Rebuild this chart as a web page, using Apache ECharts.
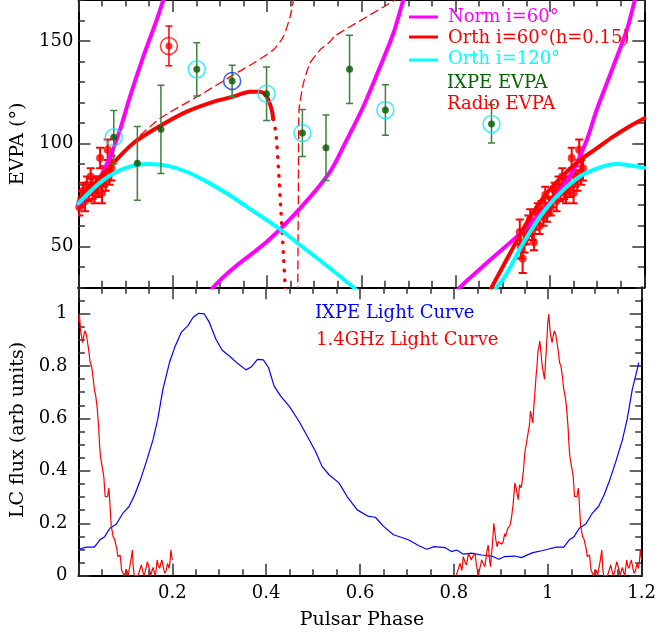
<!DOCTYPE html>
<html><head><meta charset="utf-8">
<script src="https://cdn.jsdelivr.net/npm/echarts@6/dist/echarts.min.js"></script>
<style>html,body{margin:0;padding:0;background:#fff}#c{width:659px;height:638px}</style>
</head><body><div id="c"></div>
<script>
// ---------------- DATA ----------------
const phaseTicks = [0, 0.2, 0.4, 0.6, 0.8, 1.0, 1.2];
const phaseLabels = [0.2, 0.4, 0.6, 0.8, 1.0, 1.2];
const evpaTicks = [50, 100, 150];
const fluxTicks = [0, 0.2, 0.4, 0.6, 0.8, 1.0];

// IXPE EVPA points
const ixpePhase = [0.075, 0.125, 0.175, 0.251, 0.326, 0.399, 0.475, 0.525, 0.575, 0.651, 0.876];
const ixpeEvpa  = [103.1, 90.4, 107.0, 136.2, 130.5, 124.3, 105.2, 98.0, 136.2, 116.4, 109.6];
const ixpeErr   = [13.0, 18.0, 21.5, 13.0, 7.7, 13.0, 11.5, 16.0, 16.6, 12.3, 9.3];
const ixpeRing  = ['#00e8ff', null, null, '#00e8ff', '#1030e0', '#00e8ff', '#00e8ff', null, null, '#00e8ff', '#00e8ff'];
// highlighted red point
const redPtPhase = [0.192];
const redPtEvpa = [147.6];
const redPtErr = [9.7];

// Radio EVPA (phase 0.93-1.07; phases >1 are also shown at phase-1)
const radioPhase = [0.936,0.938,0.942,0.946,0.950,0.954,0.958,0.962,0.966,0.970,0.974,0.978,0.982,0.986,0.990,0.994,0.998,1.002,1.006,1.010,1.014,1.018,1.022,1.026,1.030,1.034,1.038,1.042,1.046,1.050,1.054,1.058,1.062,1.066,1.070];
const radioEvpa  = [57,50,44,52,55,60,63,57,52,62,66,60,68,64,75,66,70,69,73,77,72,80,76,84,78,76,80,79,93,76,84,82,97,86,88];
const radioErr   = [6,6,7,5,4,5,5,4,4,4,5,4,4,4,4,4,4,4,4,4,5,4,4,4,5,5,4,5,5,5,5,5,5,6,6];

// Model curves [phase, EVPA]
const normA = [[0,70.5],[0.0388,80.7],[0.067,93.6],[0.088,106.6],[0.1094,122.9],[0.1376,142.4],[0.166,160.3],[0.18,170],[0.194,179.7]];
const normB = [[0.275,25],[0.286,30],[0.3285,39.3],[0.3994,52.2],[0.47,68.5],[0.5336,86.3],[0.569,101.8],[0.604,118],[0.6397,137.5],[0.668,153.8],[0.689,170],[0.70,178]];
const normC = [[0.795,25],[0.809,30],[0.873,43.3],[0.937,56.3],[1.0,70.9],[1.0497,87.2],[1.078,101.8],[1.099,116.4],[1.134,137.5],[1.163,155.4],[1.18,170],[1.19,178]];
const orth60A = [[0,71.5],[0.067,88.8],[0.1164,100.2],[0.173,108.6],[0.2297,115.6],[0.286,120.4],[0.3285,122.9],[0.364,125.3],[0.385,125.3],[0.3994,122.9],[0.41,116.4],[0.413,112]];
const orth60Dot = [[0.413,112],[0.419,105],[0.424,88.8],[0.429,69.3],[0.4346,46.6],[0.44,23.8]];
const orth60B = [[0.866,25],[0.8765,30],[0.9154,46.6],[0.958,64.4],[0.993,75.8],[1.028,84.7],[1.064,92],[1.099,97.7],[1.134,103.4],[1.17,108.6],[1.2,112.4]];
const orth60DashA = [[0,71.5],[0.067,88.8],[0.1164,100.8],[0.173,112.3],[0.258,123.7],[0.3286,133.5],[0.371,139.2],[0.413,145.6],[0.4346,152.1],[0.449,161.9],[0.456,170],[0.459,180]];
const orth60DashB = [[0.4648,20],[0.4651,30],[0.4664,72.5],[0.4678,116.4],[0.477,129.4],[0.491,139.2],[0.512,145.6],[0.5336,149.7],[0.544,152.5],[0.6503,167.1],[0.671,170],[0.68,172]];
const orth120A = [[0,70.9],[0.0458,81],[0.0812,86.3],[0.1164,89.3],[0.1449,90.1],[0.1873,89.3],[0.2297,86.3],[0.2721,81.5],[0.3145,75.8],[0.357,69.3],[0.3994,62.8],[0.4276,58.3],[0.47,50.6],[0.5336,39.3],[0.583,30],[0.6,26.5]];
const orth120B = [[0.875,25],[0.887,30],[0.9045,35.2],[0.947,53],[0.9896,67.7],[1.032,78.2],[1.0747,85.5],[1.1417,90.1],[1.2,88.2]];

// Light curves
const ixpeLcPhase = [0.000,0.018,0.034,0.046,0.056,0.067,0.081,0.095,0.108,0.120,0.131,0.145,0.159,0.169,0.180,0.194,0.205,0.219,0.233,0.244,0.256,0.268,0.279,0.293,0.306,0.3215,0.339,0.357,0.369,0.3815,0.394,0.405,0.417,0.431,0.449,0.470,0.4876,0.505,0.519,0.534,0.555,0.5725,0.594,0.618,0.6327,0.650,0.6714,0.703,0.7245,0.742,0.758,0.781,0.795,0.806,0.820,0.8375,0.859,0.880,0.8957,0.908,0.930,0.9436,0.968,0.9896];
const ixpeLcFlux  = [0.101,0.109,0.109,0.137,0.149,0.181,0.197,0.239,0.264,0.309,0.360,0.436,0.519,0.596,0.711,0.813,0.870,0.928,0.953,0.985,1.001,0.999,0.966,0.902,0.861,0.838,0.810,0.785,0.797,0.825,0.823,0.794,0.723,0.685,0.647,0.589,0.532,0.475,0.417,0.385,0.354,0.302,0.251,0.226,0.223,0.188,0.156,0.137,0.115,0.101,0.111,0.107,0.092,0.098,0.082,0.086,0.079,0.075,0.063,0.073,0.075,0.069,0.088,0.096];
const radioLcPhase = [0.805,0.810,0.813,0.817,0.820,0.824,0.827,0.831,0.834,0.837,0.840,0.845,0.848,0.852,0.856,0.859,0.863,0.866,0.870,0.873,0.876,0.878,0.882,0.885,0.889,0.892,0.895,0.898,0.902,0.905,0.908,0.910,0.913,0.915,0.919,0.922,0.926,0.930,0.933,0.937,0.940,0.943,0.945,0.948,0.951,0.955,0.958,0.961,0.963,0.966,0.968,0.970,0.972,0.975,0.977,0.979,0.981,0.983,0.986,0.988,0.990,0.993,0.995,0.998,1.000,1.002,1.005,1.009,1.012,1.014,1.017,1.019,1.022,1.025,1.028,1.031,1.034,1.037,1.040,1.043,1.045,1.047,1.051,1.054,1.057,1.060,1.062,1.065,1.067,1.070,1.072,1.074,1.077,1.079,1.082,1.084,1.087,1.089,1.092,1.095,1.097,1.100,1.103,1.106,1.108,1.112,1.115,1.117,1.119,1.123,1.127,1.131,1.134,1.136,1.138,1.140,1.143,1.147,1.150,1.152,1.154,1.157,1.159,1.162,1.164,1.166,1.168,1.170,1.173,1.176,1.178,1.181,1.184,1.187,1.190,1.193,1.195,1.197,1.200];
const radioLcFlux  = [0.0,0.03,0.047,0.02,0.073,0.05,0.041,0.085,0.092,0.06,0.073,0.086,0.04,0.0,0.035,0.06,0.045,0.034,0.09,0.117,0.06,0.034,0.12,0.20,0.14,0.111,0.13,0.137,0.12,0.13,0.16,0.149,0.17,0.181,0.19,0.213,0.27,0.354,0.33,0.29,0.347,0.335,0.354,0.40,0.468,0.47,0.545,0.575,0.628,0.60,0.583,0.64,0.685,0.762,0.80,0.857,0.87,0.896,0.84,0.80,0.80,0.749,0.749,0.90,0.966,0.998,0.93,0.889,0.92,0.934,0.92,0.915,0.86,0.813,0.80,0.76,0.711,0.685,0.64,0.570,0.50,0.455,0.449,0.38,0.302,0.30,0.302,0.334,0.28,0.188,0.17,0.149,0.14,0.137,0.10,0.073,0.08,0.079,0.022,0.01,0.0,0.01,0.022,0.0,0.0,0.06,0.098,0.03,0.0,0.0,0.0,0.0,0.041,0.037,0.01,0.0,0.02,0.054,0.06,0.02,0.0,0.02,0.032,0.01,0.0,0.03,0.06,0.04,0.028,0.05,0.06,0.03,0.009,0.02,0.047,0.028,0.05,0.098,0.06];

// ---------------- BUILD ----------------
const F = '"DejaVu Serif", serif';
const zip = (a, b, c) => a.map((v, i) => c ? [v, b[i], c[i]] : [v, b[i]]);
const wrapDown = pts => pts.filter(p => p[0] >= 1).map(p => [p[0] - 1].concat(p.slice(1)));
const wrapUp = pts => pts.filter(p => p[0] <= 0.2).map(p => [p[0] + 1].concat(p.slice(1)));

const ixpeLc = zip(ixpeLcPhase, ixpeLcFlux);
const ixpeLcAll = ixpeLc.concat(wrapUp(ixpeLc));
const radioLc = zip(radioLcPhase, radioLcFlux);
const radioLcLeft = wrapDown(radioLc);
const radioPts = zip(radioPhase, radioEvpa, radioErr);
const radioAll = radioPts.concat(wrapDown(radioPts));
const ixpePts = zip(ixpePhase, ixpeEvpa, ixpeErr);
const redPts = zip(redPtPhase, redPtEvpa, redPtErr);

function steps(a, b, s) { const r = []; for (let v = a; v <= b + 1e-9; v += s) r.push(+v.toFixed(4)); return r; }
const phaseMinor = steps(0, 1.2, 0.05);
const evpaMinor = steps(30, 170, 10);
const fluxMinor = steps(0, 1.1, 0.05);

function mkAxis(o) {
  return {
    type: 'value', gridIndex: o.grid, position: o.pos, min: o.min, max: o.max,
    axisLine: { show: !o.minor, onZero: false, lineStyle: { color: '#000', width: 2 } },
    axisTick: { show: true, inside: true, length: o.minor ? 6.5 : 12, customValues: o.ticks,
      lineStyle: { color: '#333', width: 1.5 } },
    axisLabel: o.labels ? { show: true, customValues: o.labels, margin: o.margin, color: '#000',
      fontFamily: F, fontSize: 18, formatter: o.fmt } : { show: false },
    splitLine: { show: false }, minorTick: { show: false }
  };
}
const fmtNum = v => String(+(+v).toFixed(2));
const xAxes = [
  mkAxis({ grid: 0, pos: 'bottom', min: 0, max: 1.2, ticks: phaseTicks }),
  mkAxis({ grid: 0, pos: 'top', min: 0, max: 1.2, ticks: phaseTicks }),
  mkAxis({ grid: 0, pos: 'bottom', min: 0, max: 1.2, ticks: phaseMinor, minor: true }),
  mkAxis({ grid: 0, pos: 'top', min: 0, max: 1.2, ticks: phaseMinor, minor: true }),
  mkAxis({ grid: 1, pos: 'bottom', min: 0, max: 1.2, ticks: phaseTicks, labels: phaseLabels, margin: 9, fmt: fmtNum }),
  mkAxis({ grid: 1, pos: 'top', min: 0, max: 1.2, ticks: phaseTicks }),
  mkAxis({ grid: 1, pos: 'bottom', min: 0, max: 1.2, ticks: phaseMinor, minor: true }),
  mkAxis({ grid: 1, pos: 'top', min: 0, max: 1.2, ticks: phaseMinor, minor: true })
];
const yAxes = [
  mkAxis({ grid: 0, pos: 'left', min: 30, max: 170, ticks: evpaTicks, labels: evpaTicks, margin: 5, fmt: fmtNum }),
  mkAxis({ grid: 0, pos: 'right', min: 30, max: 170, ticks: evpaTicks }),
  mkAxis({ grid: 0, pos: 'left', min: 30, max: 170, ticks: evpaMinor, minor: true }),
  mkAxis({ grid: 0, pos: 'right', min: 30, max: 170, ticks: evpaMinor, minor: true }),
  mkAxis({ grid: 1, pos: 'left', min: 0, max: 1.1, ticks: fluxTicks, labels: fluxTicks, margin: 11, fmt: fmtNum }),
  mkAxis({ grid: 1, pos: 'right', min: 0, max: 1.1, ticks: fluxTicks }),
  mkAxis({ grid: 1, pos: 'left', min: 0, max: 1.1, ticks: fluxMinor, minor: true }),
  mkAxis({ grid: 1, pos: 'right', min: 0, max: 1.1, ticks: fluxMinor, minor: true })
];

function errBars(data, color, capHalf, lw, z) {
  return {
    type: 'custom', xAxisIndex: 0, yAxisIndex: 0, data: data, z: z, clip: true,
    encode: { x: 0, y: 1 },
    renderItem: function (params, api) {
      const x = api.value(0), y = api.value(1), e = api.value(2);
      const t = api.coord([x, y + e]), b = api.coord([x, y - e]);
      const st = { stroke: color, lineWidth: lw };
      return { type: 'group', children: [
        { type: 'line', shape: { x1: t[0], y1: t[1], x2: b[0], y2: b[1] }, style: st },
        { type: 'line', shape: { x1: t[0] - capHalf, y1: t[1], x2: t[0] + capHalf, y2: t[1] }, style: st },
        { type: 'line', shape: { x1: b[0] - capHalf, y1: b[1], x2: b[0] + capHalf, y2: b[1] }, style: st }
      ] };
    }
  };
}
function curve(data, color, width, type, z, smooth) {
  return { type: 'line', xAxisIndex: 0, yAxisIndex: 0, data: data, showSymbol: false, symbol: 'none',
    smooth: smooth === undefined ? 0.3 : smooth, clip: true, z: z,
    lineStyle: { color: color, width: width, type: type || 'solid', cap: 'round', join: 'round' } };
}

const series = [
  errBars(radioAll, '#ff0000', 4, 2, 2),
  { type: 'scatter', xAxisIndex: 0, yAxisIndex: 0, data: radioAll.map(p => [p[0], p[1]]), symbolSize: 8,
    itemStyle: { color: '#ff0000' }, z: 2 },
  curve(orth60DashA, '#ff0000', 1.3, [8, 5], 3, 0.2),
  curve(orth60DashB, '#ff0000', 1.3, [8, 5], 3, 0.15),
  curve(normA, '#ff00ff', 4, 'solid', 4),
  curve(normB, '#ff00ff', 4, 'solid', 4),
  curve(normC, '#ff00ff', 4, 'solid', 4),
  curve(orth60A, '#ff0000', 4, 'solid', 5),
  curve(orth60Dot, '#ff0000', 3.5, [0.5, 9], 5, 0.2),
  curve(orth60B, '#ff0000', 4, 'solid', 5),
  curve(orth120A, '#00ffff', 4, 'solid', 6),
  curve(orth120B, '#00ffff', 4, 'solid', 6),
  errBars(ixpePts, '#3f803f', 3.5, 1.5, 7),
  { type: 'scatter', xAxisIndex: 0, yAxisIndex: 0, data: ixpePts.map(p => [p[0], p[1]]), symbolSize: 7,
    itemStyle: { color: '#005a00' }, z: 8 },
  errBars(redPts, '#ff0000', 3.5, 1.5, 7),
  { type: 'scatter', xAxisIndex: 0, yAxisIndex: 0, data: redPts.map(p => [p[0], p[1]]), symbolSize: 7,
    itemStyle: { color: '#ff0000' }, z: 8 },
  { type: 'scatter', xAxisIndex: 0, yAxisIndex: 0, z: 9, symbolSize: 17,
    data: ixpePts.map((p, i) => ixpeRing[i] ? { value: [p[0], p[1]], itemStyle: { color: 'rgba(0,0,0,0)', borderColor: ixpeRing[i], borderWidth: 1.5 } } : null).filter(Boolean)
      .concat(redPts.map(p => ({ value: [p[0], p[1]], itemStyle: { color: 'rgba(0,0,0,0)', borderColor: '#ff0000', borderWidth: 1.5 } }))) },
  { type: 'line', xAxisIndex: 4, yAxisIndex: 4, data: ixpeLcAll, showSymbol: false, symbol: 'none',
    lineStyle: { color: '#0000ff', width: 1.2 }, z: 3 },
  { type: 'line', xAxisIndex: 4, yAxisIndex: 4, data: radioLc, showSymbol: false, symbol: 'none',
    lineStyle: { color: '#ff0000', width: 1.2 }, z: 4 },
  { type: 'line', xAxisIndex: 4, yAxisIndex: 4, data: radioLcLeft, showSymbol: false, symbol: 'none',
    lineStyle: { color: '#ff0000', width: 1.2 }, z: 4 }
];

function txt(x, y, s, color, size, rot, align) {
  return { type: 'text', x: x, y: y, rotation: rot || 0, z: 100,
    style: { text: s, fill: color, font: size + 'px ' + F, align: align || 'left', verticalAlign: 'middle' } };
}
function seg(x1, x2, y, color) {
  return { type: 'line', z: 100, shape: { x1: x1, y1: y, x2: x2, y2: y }, style: { stroke: color, lineWidth: 3 } };
}
const graphic = [
  txt(18, 144, 'EVPA (°)', '#000', 19, Math.PI / 2, 'center'),
  txt(18, 430, 'LC flux (arb units)', '#000', 19, Math.PI / 2, 'center'),
  txt(362, 620, 'Pulsar Phase', '#000', 19, 0, 'center'),
  seg(409, 438, 17, '#ff00ff'), txt(448, 17, 'Norm i=60°', '#ff00ff', 18),
  seg(409, 438, 37, '#ff0000'), txt(448, 38, 'Orth i=60°(h=0.15)', '#ff0000', 18),
  seg(409, 438, 60, '#00ffff'), txt(448, 59, 'Orth i=120°', '#00ffff', 18),
  txt(447, 83, 'IXPE EVPA', '#006400', 18),
  txt(447, 104, 'Radio EVPA', '#ff0000', 18),
  txt(315, 313, 'IXPE Light Curve', '#0000ff', 18),
  txt(316, 340, '1.4GHz Light Curve', '#ff0000', 18)
];

const chart = echarts.init(document.getElementById('c'), null, { renderer: 'canvas' });
chart.setOption({
  animation: false,
  backgroundColor: '#fff',
  grid: [
    { left: 78.4, top: 0, width: 565.9, height: 287.3 },
    { left: 78.4, top: 287.3, width: 565.9, height: 288.4 }
  ],
  xAxis: xAxes, yAxis: yAxes, series: series, graphic: graphic
});
</script></body></html>
